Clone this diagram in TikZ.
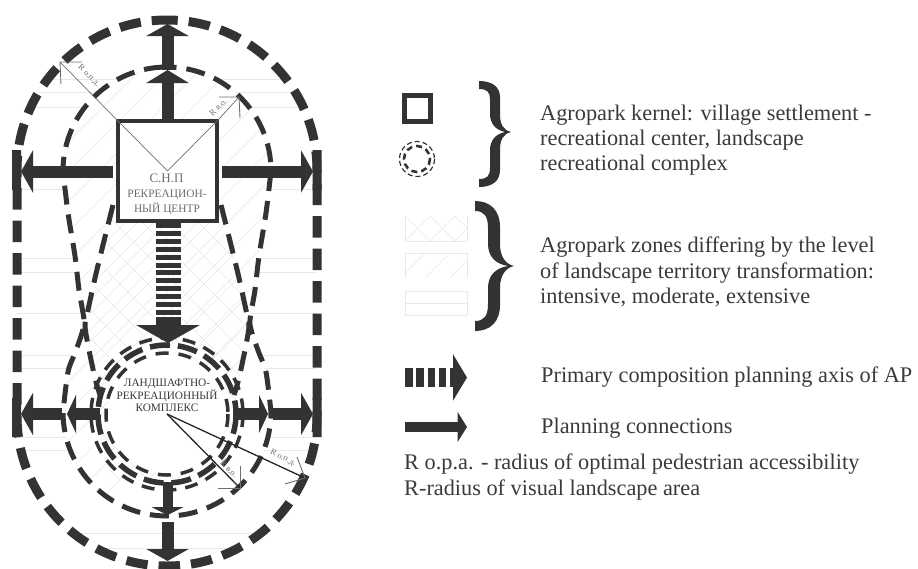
\documentclass[tikz,border=0pt]{standalone}
\usepackage{fontspec}
\setmainfont{Liberation Serif}
\definecolor{APdark}{HTML}{333333}
\definecolor{APtext}{HTML}{3A3A3A}
\definecolor{APgrey}{HTML}{6E6E6E}
\definecolor{APfaint}{HTML}{E8E8E8}
\usetikzlibrary{arrows.meta, calc}
\newcommand{\outerzone}{(167,20) arc[start angle=-90,end angle=0,radius=150] -- (317,416) arc[start angle=0,end angle=180,radius=150] -- (17,170) arc[start angle=180,end angle=270,radius=150] -- cycle}
\newcommand{\innerzone}{(167,67) arc[start angle=-90,end angle=0,radius=104] -- plot[smooth] coordinates {(271,171) (266,213) (259,256) (255,290) (250,320) (252,333) (259,353) (266,372) (271,412)} arc[start angle=0,end angle=180,radius=104] -- plot[smooth] coordinates {(63,412) (68,372) (75,353) (82,333) (84,320) (79,290) (75,256) (68,213) (63,171)} arc[start angle=180,end angle=270,radius=104] -- cycle}
\tikzset{
  planlink/.style={draw=APdark, line width=12pt},
  zoneband/.style={draw=APdark, line width=5pt},
  radiusline/.style={draw=APgrey, line width=0.7pt},
  hatchline/.style={draw=APfaint, line width=0.6pt},
  legendtext/.style={anchor=west, inner sep=0pt, align=left, text=APtext, font=\fontsize{22.3}{25.2}\selectfont},
  radiuslabel/.style={inner sep=0pt, text=APgrey, font=\fontsize{8.5}{9}\selectfont},
}
\begin{document}
\begin{tikzpicture}[x=1pt, y=-1pt]
  \useasboundingbox (0,0) rectangle (918,568);

  % Faint zone hatching
  \begin{scope}[even odd rule]
    \clip \outerzone \innerzone;
    \foreach \ry in {79,92,107,189,258,272,313,355,368,437,450,533,548}
      \draw[hatchline] (0,\ry) -- (334,\ry);
  \end{scope}
  \begin{scope}
    \clip \innerzone;
    \foreach \rc in {0,30,...,600}
      \draw[hatchline] (\rc,0) -- (\rc-600,600);
  \end{scope}
  \begin{scope}
    \clip (113,205) -- (88,310) -- (85,325) -- (95,380) -- (110,480) -- (224,480) -- (239,380) -- (249,325) -- (246,310) -- (221,205) -- cycle;
    \foreach \rc in {-300,-272,...,600} {
      \draw[hatchline] (\rc,200) -- (\rc+300,500);
      \draw[hatchline] (\rc,200) -- (\rc-300,500);
    }
  \end{scope}
  \fill[white] (167,414) circle[radius=60];

  % Kernel square and recreational centre
  \node[draw=APdark, fill=white, line width=4.5pt, minimum width=99pt, minimum height=100pt, inner sep=0pt] (kernel) at (167.5,171) {};
  \node[text=APgrey, font=\fontsize{13}{14}\selectfont, inner sep=0pt] (kernelA) at (166.5,178) {С.Н.П};
  \node[text=APgrey, font=\fontsize{11.4}{15}\selectfont, inner sep=0pt, align=center] (kernelB) at (167,202.5) {РЕКРЕАЦИОН-\\НЫЙ ЦЕНТР};

  % Zone boundaries
  \draw[APdark, line width=9pt, dash pattern=on 21.5pt off 11pt, dash phase=10.75pt] \outerzone;
  \draw[zoneband, dash pattern=on 19pt off 10pt, dash phase=9.5pt] \innerzone;
  \draw[zoneband, dash pattern=on 20pt off 10pt] plot[smooth] coordinates {(113,205) (103,245) (95,278) (88,310) (85,325) (88,345) (95,378) (100,395)};
  \draw[zoneband, dash pattern=on 20pt off 10pt] plot[smooth] coordinates {(221,205) (231,245) (239,278) (246,310) (249,325) (246,345) (239,378) (234,395)};
  \fill[APdark] (12,150) rectangle (21,190) (312.5,150) rectangle (321.5,190) (12,398) rectangle (21,437) (312.5,398) rectangle (321.5,437);

  % Landscape recreational complex rings
  \coordinate (complex) at (167,414);
  \draw[APdark, line width=3.5pt, dash pattern=on 13pt off 9pt] (complex) circle[radius=76];
  \draw[APdark, line width=5.5pt, dash pattern=on 20pt off 8pt] (complex) circle[radius=69];
  \draw[APdark, line width=3.5pt, dash pattern=on 13pt off 10pt] (complex) circle[radius=61];
  \node[text=APtext, font=\fontsize{11.3}{12.6}\selectfont, inner sep=0pt, align=center] (complexA) at (167,395.5) {ЛАНДШАФТНО-\\РЕКРЕАЦИОННЫЙ\\КОМПЛЕКС\hspace{8pt}};

  % Planning connections from the kernel
  \coordinate (tipNa) at (167.5,70);
  \coordinate (tipNb) at (167.5,24);
  \coordinate (tipW) at (21,171.5);
  \coordinate (tipE) at (313,171.5);
  \draw[planlink, -{Triangle[length=13pt,width=42pt]}] (kernel.north) -- (tipNa);
  \draw[planlink, -{Triangle[length=12pt,width=42pt]}] (tipNa) -- (tipNb);
  \draw[planlink, -{Triangle[length=12pt,width=42pt]}] (113,171.5) -- (tipW);
  \draw[planlink, -{Triangle[length=12pt,width=42pt]}] (222,171.5) -- (tipE);

  % Planning connections from the complex
  \coordinate (tipWa) at (67,414);
  \coordinate (tipWb) at (21,414);
  \coordinate (tipEa) at (268,414);
  \coordinate (tipEb) at (313,414);
  \coordinate (tipSa) at (167.5,515);
  \coordinate (tipSb) at (167.5,561);
  \draw[planlink, -{Triangle[length=9pt,width=38pt]}] (100,414) -- (tipWa);
  \draw[planlink, -{Triangle[length=12pt,width=42pt]}] (62,414) -- (tipWb);
  \draw[planlink, -{Triangle[length=9pt,width=38pt]}] (234,414) -- (tipEa);
  \draw[planlink, -{Triangle[length=12pt,width=42pt]}] (273,414) -- (tipEb);
  \draw[planlink, line width=10pt, -{Triangle[length=8pt,width=32pt]}] (167.5,482) -- (tipSa);
  \draw[planlink, -{Triangle[length=12pt,width=42pt]}] (167.5,522) -- (tipSb);

  % Primary composition axis
  \coordinate (axisEnd) at (168,343);
  \draw[APdark, line width=25pt, dash pattern=on 5pt off 2.85pt] (kernel.south) ++(0.5,0) -- (168,322);
  \draw[APdark, line width=25pt, -{Triangle[length=18pt,width=63pt]}] (168,319) -- (axisEnd);

  % Radius lines of the kernel
  \coordinate (radOpd) at (60,62);
  \coordinate (radVo) at (239,97);
  \draw[radiusline] (kernel.north west) -- (kernel.center) -- (kernel.north east);
  \draw[radiusline] (kernel.north west) -- (radOpd);
  \draw[radiusline] (kernel.north east) -- (radVo);
  \draw[radiusline, line width=0.9pt] (82,62) -- (radOpd) -- (61,84);
  \draw[radiusline, line width=0.9pt] (219,97) -- (radVo) -- (240,118);
  \node[radiuslabel, rotate=-45] (labOpdA) at (89,76) {R о.п.д.};
  \node[radiuslabel, rotate=45] (labVoA) at (218,107) {R в.о.};

  % Radius lines of the complex
  \coordinate (radVoB) at (240,488);
  \coordinate (radOpdB) at (305,478);
  \draw[black!85, line width=1.3pt] (complex) -- (radVoB);
  \draw[black!85, line width=1.3pt] (complex) -- (radOpdB);
  \draw[radiusline, line width=0.9pt] (218,488) -- (radVoB) -- (240,466);
  \draw[radiusline, line width=0.9pt] (285,484) -- (radOpdB) -- (297,457);
  \node[radiuslabel, rotate=-45] (labVoB) at (229,469) {R в.о.};
  \node[radiuslabel, rotate=-27] (labOpdB) at (283,458) {R о.п.д.};

  % Legend: kernel
  \node[draw=APdark, line width=5pt, minimum size=26pt, inner sep=0pt] (iconKernel) at (417.5,108.5) {};
  \coordinate (iconComplex) at (417,159);
  \draw[APdark, line width=1.2pt, dash pattern=on 5pt off 3pt] (iconComplex) circle[radius=17.5];
  \draw[APdark, line width=2.6pt, dash pattern=on 6pt off 4pt] (iconComplex) circle[radius=13];
  \fill[APdark] (511,132) .. controls (503,134) and (500,140) .. (500,150) -- (500,170) .. controls (500,182) and (491,187) .. (479,187) -- (479,179) .. controls (487,179) and (490,176) .. (490,168) -- (490,150) .. controls (490,140) and (496,134) .. (505,132) .. controls (496,130) and (490,124) .. (490,114) -- (490,99) .. controls (490,92) and (487,89) .. (479,89) -- (479,81) .. controls (491,81) and (500,86) .. (500,97) -- (500,114) .. controls (500,124) and (503,130) .. (511,132) -- cycle;
  \node[legendtext] (textKernel) at (540,140) {Agropark kernel: village settlement -\\recreational center, landscape\\recreational complex};

  % Legend: zones
  \begin{scope}
    \clip (405,216) rectangle (467,241);
    \foreach \rc in {380,405,...,480} {
      \draw[hatchline] (\rc,216) -- (\rc+25,241);
      \draw[hatchline] (\rc,241) -- (\rc+25,216);
    }
  \end{scope}
  \draw[hatchline] (405,241) -- (467,241) (405,216) -- (405,241) (467,216) -- (467,241);
  \begin{scope}
    \clip (405,253) rectangle (467,278);
    \foreach \rc in {400,425,...,475}
      \draw[hatchline] (\rc,278) -- (\rc+25,253);
  \end{scope}
  \draw[hatchline] (405,253) -- (467,253) (405,253) -- (405,278) (467,253) -- (467,278);
  \draw[hatchline] (405,291) -- (467,291) (405,303) -- (467,303) (405,315) -- (467,315) (405,291) -- (405,315) (467,291) -- (467,315);
  \fill[APdark] (514,266) .. controls (505,268) and (500,276) .. (500,288) -- (500,305) .. controls (500,322) and (490,331) .. (475,331) -- (475,321) .. controls (484,321) and (488,316) .. (488,304) -- (488,288) .. controls (488,276) and (495,268) .. (508,266) .. controls (495,264) and (488,256) .. (488,244) -- (488,228) .. controls (488,216) and (484,211) .. (475,211) -- (475,201) .. controls (490,201) and (500,210) .. (500,227) -- (500,244) .. controls (500,256) and (505,264) .. (514,266) -- cycle;
  \node[legendtext] (textZones) at (540,272) {Agropark zones differing by the level\\of landscape territory transformation:\\intensive, moderate, extensive};

  % Legend: arrows
  \coordinate (legAxisEnd) at (467,377.5);
  \draw[APdark, line width=19pt, dash pattern=on 7.5pt off 3.8pt] (405,377.5) -- (451,377.5);
  \draw[APdark, line width=19pt, -{Triangle[length=14pt,width=46pt]}] (450,377.5) -- (legAxisEnd);
  \node[legendtext] (textAxis) at (541,377) {Primary composition planning axis of AP};
  \coordinate (legLinkEnd) at (467,427);
  \draw[planlink, line width=9.5pt, -{Triangle[length=9.5pt,width=30pt]}] (405,427) -- (legLinkEnd);
  \node[legendtext] (textLink) at (541,428) {Planning connections};
  \node[legendtext] (textRadii) at (404,477) {R o.p.a. - radius of optimal pedestrian accessibility\\R-radius of visual landscape area};
\end{tikzpicture}
\end{document}
